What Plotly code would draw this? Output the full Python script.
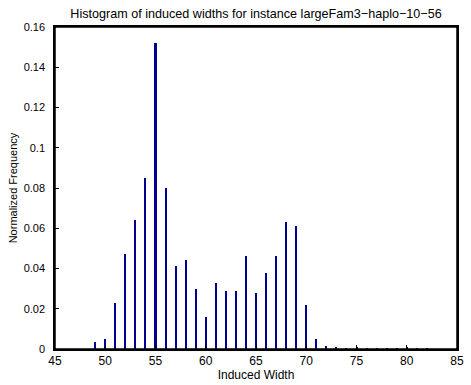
import plotly.graph_objects as go

widths = [49, 50, 51, 52, 53, 54, 55, 56, 57, 58, 59, 60, 61, 62, 63, 64, 65,
          66, 67, 68, 69, 70, 71, 72, 73, 74, 75, 76, 77, 78, 79, 80, 81, 82]
freqs = [0.0035, 0.0048, 0.023, 0.047, 0.064, 0.085, 0.152, 0.080, 0.041, 0.044,
         0.030, 0.016, 0.033, 0.029, 0.029, 0.046, 0.028, 0.038, 0.046, 0.063,
         0.061, 0.022, 0.005, 0.0015, 0.0006, 0.0004, 0.001, 0.0004, 0.0003,
         0.0002, 0.0002, 0.001, 0.0002, 0.0001]
x_ticks = [45, 50, 55, 60, 65, 70, 75, 80, 85]
y_ticks = [0, 0.02, 0.04, 0.06, 0.08, 0.1, 0.12, 0.14, 0.16]
y_labels = ["0", "0.02", "0.04", "0.06", "0.08", "0.1", "0.12", "0.14", "0.16"]

fig = go.Figure()
fig.add_trace(go.Bar(x=widths, y=freqs, width=0.2,
                     marker=dict(color="#00008f", line=dict(width=0))))

FAM = "Liberation Sans, Arial, sans-serif"
xfont = dict(family=FAM, size=12, color="black")
yfont = dict(family=FAM, size=11, color="black")
axis_common = dict(showline=True, linecolor="black", linewidth=1.5, mirror=True,
                   ticks="inside", ticklen=4, tickcolor="black", showgrid=False,
                   zeroline=False)

fig.update_layout(
    width=471, height=385,
    margin=dict(l=55, r=7, t=27, b=34),
    paper_bgcolor="white", plot_bgcolor="white",
    font=dict(family=FAM, size=11, color="black"),
    showlegend=False,
    bargap=0,
    title=dict(text="Histogram of induced widths for instance largeFam3\u2212haplo\u221210\u221256",
               xref="paper", x=0.5, xanchor="center", y=0.966, yanchor="middle",
               font=dict(family=FAM, size=12.6, color="black")),
    xaxis=dict(range=[45, 85], tickvals=x_ticks, tickfont=xfont,
               title=dict(text="Induced Width", standoff=1, font=xfont), **axis_common),
    yaxis=dict(range=[0, 0.16], tickvals=y_ticks, ticktext=y_labels, tickfont=yfont,
               ticklabelstandoff=6,
               title=dict(text="Normalized Frequency", standoff=4, font=yfont), **axis_common),
    shapes=[dict(type="rect", xref="paper", yref="paper", x0=0, x1=1, y0=0, y1=1,
                 line=dict(color="black", width=1.5), layer="above")],
)

fig.write_html("out.html", config={"displayModeBar": False},
               post_script="document.body.style.margin='0';document.body.style.overflow='hidden';")
